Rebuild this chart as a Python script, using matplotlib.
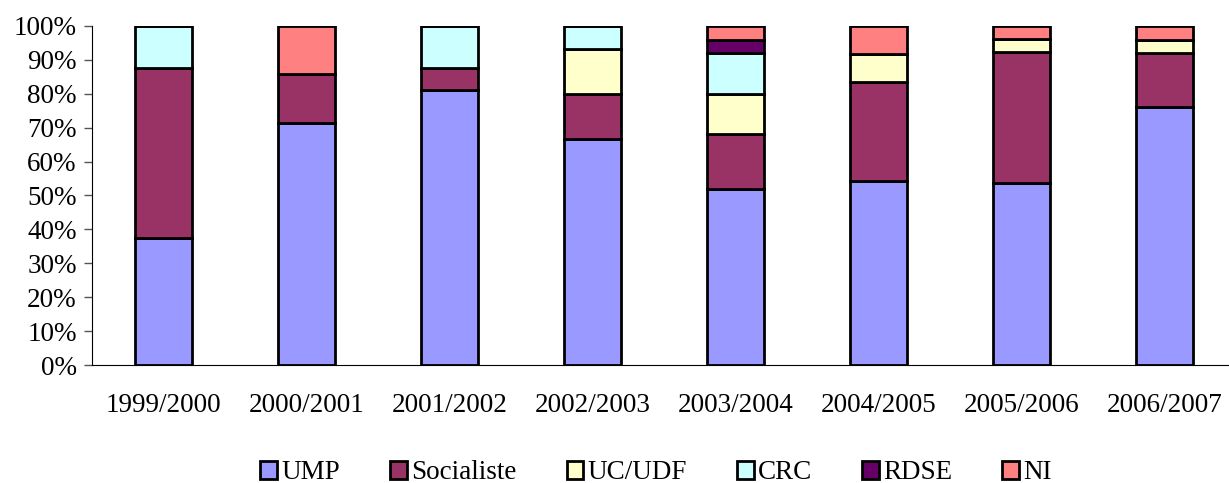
import matplotlib
matplotlib.use('Agg')
import matplotlib.pyplot as plt
import numpy as np

years = ['1999/2000', '2000/2001', '2001/2002', '2002/2003',
         '2003/2004', '2004/2005', '2005/2006', '2006/2007']
ump = [37.5, 71.4, 81.25, 66.7, 52, 54.2, 53.8, 76]
socialiste = [50, 14.3, 6.25, 13.3, 16, 29.2, 38.5, 16]
uc_udf = [0, 0, 0, 13.3, 12, 8.3, 3.85, 4]
crc = [12.5, 0, 12.5, 6.7, 12, 0, 0, 0]
rdse = [0, 0, 0, 0, 4, 0, 0, 0]
ni = [0, 14.3, 0, 0, 4, 8.3, 3.85, 4]

series = [('UMP', ump, '#9999FF'),
          ('Socialiste', socialiste, '#993366'),
          ('UC/UDF', uc_udf, '#FFFFCC'),
          ('CRC', crc, '#CCFFFF'),
          ('RDSE', rdse, '#660066'),
          ('NI', ni, '#FF8080')]

plt.rcParams['font.family'] = ['Liberation Serif', 'DejaVu Serif']
plt.rcParams['font.size'] = 19.5

fig = plt.figure(figsize=(12.29, 4.83), dpi=100)
ax = fig.add_axes([0.0749, 0.2443, 0.9308, 0.7019])

x = np.arange(len(years))
bottom = np.zeros(len(years))
for name, vals, color in series:
    vals = np.array(vals, dtype=float)
    ax.bar(x, vals, 0.4, bottom=bottom, color=color, edgecolor='black',
           linewidth=2, label=name)
    bottom += vals

ax.set_xlim(-0.5, 7.5)
ax.set_ylim(0, 100)
ax.set_yticks(np.arange(0, 101, 10))
ax.set_yticklabels(['{}%'.format(v) for v in range(0, 101, 10)])
ax.set_xticks(x)
ax.set_xticklabels(years)
ax.tick_params(axis='x', length=0, pad=20)
ax.tick_params(axis='y', length=6, width=1, color='#555555', pad=5)
ax.spines['top'].set_visible(False)
ax.spines['right'].set_visible(False)

handles, labels = ax.get_legend_handles_labels()
fig.legend(handles, labels, loc='center', bbox_to_anchor=(656 / 1229, 0.021),
           ncol=6, frameon=False, handlelength=0.62, handleheight=0.62,
           handletextpad=0.15, columnspacing=1.85,
           prop={'family': 'Liberation Serif', 'size': 19.5},
           borderaxespad=0, borderpad=0)

fig.savefig('out.png', dpi=100)
